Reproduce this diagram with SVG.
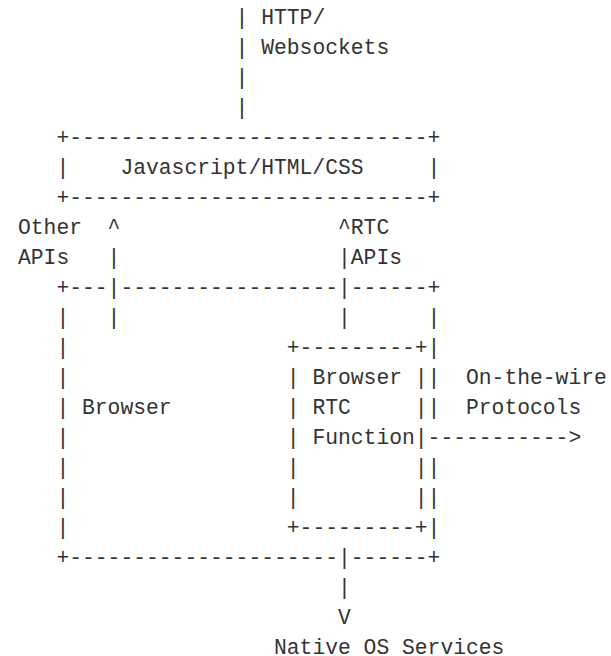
<svg xmlns="http://www.w3.org/2000/svg" width="611" height="656" viewBox="0 0 611 656">
<style>
text{font-family:"Liberation Mono","Courier New",monospace;font-size:21.333px;fill:#333;white-space:pre}
</style>
<rect width="611" height="656" fill="#fff"/>
<g id="connectors" xml:space="preserve">
<text x="235.6" y="24">|</text><text x="261.2" y="24">HTTP/</text>
<text x="235.6" y="54">|</text><text x="261.2" y="54">Websockets</text>
<text x="235.6" y="84">|</text>
<text x="235.6" y="114">|</text>
<text x="18" y="234">Other</text><text x="107.6" y="234">^</text><text x="338" y="234">^</text><text x="350.8" y="234">RTC</text>
<text x="18" y="264">APIs</text><text x="107.6" y="264">|</text><text x="338" y="264">|</text><text x="350.8" y="264">APIs</text>
<text x="107.6" y="294">|</text><text x="338" y="294">|</text>
<text x="107.6" y="324">|</text><text x="338" y="324">|</text>
<text x="466" y="384">On-the-wire</text>
<text x="466" y="414">Protocols</text>
<text x="427.6" y="444">-----------&gt;</text>
<text x="338" y="564">|</text>
<text x="338" y="594">|</text>
<text x="338" y="624">V</text>
<text x="274" y="654">Native OS Services</text>
</g>
<g id="js" xml:space="preserve">
<text x="56.4" y="144">+----------------------------+</text>
<text x="56.4" y="174">|    Javascript/HTML/CSS     |</text>
<text x="56.4" y="204">+----------------------------+</text>
</g>
<g id="browser" xml:space="preserve">
<text x="56.4" y="294">+---</text><text x="120.4" y="294">-----------------</text><text x="350.8" y="294">------+</text>
<text x="56.4" y="324">|</text><text x="427.6" y="324">|</text>
<text x="56.4" y="354">|</text><text x="427.6" y="354">|</text>
<text x="56.4" y="384">|</text><text x="427.6" y="384">|</text>
<text x="56.4" y="414">| Browser</text><text x="427.6" y="414">|</text>
<text x="56.4" y="444">|</text>
<text x="56.4" y="474">|</text><text x="427.6" y="474">|</text>
<text x="56.4" y="504">|</text><text x="427.6" y="504">|</text>
<text x="56.4" y="534">|</text><text x="427.6" y="534">|</text>
<text x="56.4" y="564">+---------------------</text><text x="350.8" y="564">------+</text>
</g>
<g id="rtc" xml:space="preserve">
<text x="286.8" y="354">+---------+</text>
<text x="286.8" y="384">| Browser |</text>
<text x="286.8" y="414">| RTC     |</text>
<text x="286.8" y="444">| Function|</text>
<text x="286.8" y="474">|         |</text>
<text x="286.8" y="504">|         |</text>
<text x="286.8" y="534">+---------+</text>
</g>
</svg>
